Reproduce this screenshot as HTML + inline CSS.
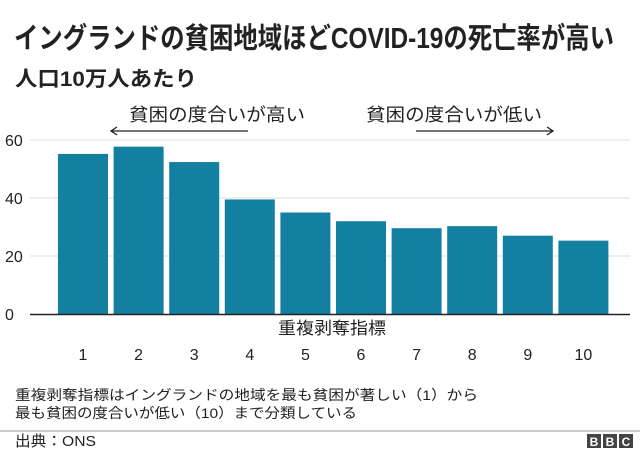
<!DOCTYPE html>
<html><head><meta charset="utf-8"><style>
body{margin:0;width:640px;height:450px;background:#fff;overflow:hidden;font-family:"Liberation Sans","Noto Sans CJK JP",sans-serif;}
</style></head><body>
<svg width="640" height="450" xmlns="http://www.w3.org/2000/svg" font-family="Liberation Sans, Noto Sans CJK JP, sans-serif">
<text x="14" y="48" font-size="29" font-weight="bold" fill="#222" textLength="600" lengthAdjust="spacingAndGlyphs">イングランドの貧困地域ほどCOVID-19の死亡率が高い</text>
<text x="15" y="86" font-size="21" font-weight="bold" fill="#222" textLength="182" lengthAdjust="spacingAndGlyphs">人口10万人あたり</text>
<text x="129" y="121" font-size="18" fill="#222" textLength="176" lengthAdjust="spacingAndGlyphs">貧困の度合いが高い</text>
<text x="366" y="121" font-size="18" fill="#222" textLength="176" lengthAdjust="spacingAndGlyphs">貧困の度合いが低い</text>
<g stroke="#222" stroke-width="1.3" fill="none"><line x1="111" y1="131" x2="248" y2="131"/><polyline points="117,127 111,131 117,135"/></g>
<g stroke="#222" stroke-width="1.3" fill="none"><line x1="416" y1="131" x2="553" y2="131"/><polyline points="547,127 553,131 547,135"/></g>
<g id="grid"></g><g id="bars"></g><g id="axes"></g>
<text x="278" y="334" font-size="17" fill="#222" textLength="108" lengthAdjust="spacingAndGlyphs">重複剥奪指標</text>
<text x="15" y="400" font-size="14" fill="#222" textLength="463" lengthAdjust="spacingAndGlyphs">重複剥奪指標はイングランドの地域を最も貧困が著しい（1）から</text>
<text x="15" y="418" font-size="14" fill="#222" textLength="342" lengthAdjust="spacingAndGlyphs">最も貧困の度合いが低い（10）まで分類している</text>
<line x1="0" y1="431" x2="640" y2="431" stroke="#999" stroke-width="1"/>
<text x="15" y="446" font-size="15" fill="#222" textLength="81" lengthAdjust="spacingAndGlyphs">出典：ONS</text>
<g>
<rect x="587" y="434" width="14" height="14" fill="#444"/><rect x="603" y="434" width="14" height="14" fill="#444"/><rect x="619" y="434" width="14" height="14" fill="#444"/>
<text x="594" y="446" font-size="12" font-weight="bold" fill="#fff" text-anchor="middle">B</text>
<text x="610" y="446" font-size="12" font-weight="bold" fill="#fff" text-anchor="middle">B</text>
<text x="626" y="446" font-size="12" font-weight="bold" fill="#fff" text-anchor="middle">C</text>
</g>
</svg>
<script>
const categories=["1","2","3","4","5","6","7","8","9","10"];
const values=[55.2,57.7,52.4,39.5,35,32,29.6,30.3,27,25.3];
const yTicks=[0,20,40,60];
const NS="http://www.w3.org/2000/svg";
const y=v=>314-v*2.9;
const xc=i=>83+i*55.6;
const grid=document.getElementById('grid'),bars=document.getElementById('bars'),axes=document.getElementById('axes');
yTicks.forEach(t=>{
 if(t!==0){const l=document.createElementNS(NS,'line');
 l.setAttribute('x1',30);l.setAttribute('x2',630);l.setAttribute('y1',y(t));l.setAttribute('y2',y(t));
 l.setAttribute('stroke','#ddd');l.setAttribute('stroke-width','1');
 
 
 grid.appendChild(l);}
 const tx=document.createElementNS(NS,'text');
 tx.setAttribute('x',5);tx.setAttribute('y',y(t)+6);tx.setAttribute('font-size','16');tx.setAttribute('fill','#222');
 tx.textContent=t;
 
 
 axes.appendChild(tx);
});
values.forEach((v,i)=>{
 const r=document.createElementNS(NS,'rect');
 r.setAttribute('x',xc(i)-25);r.setAttribute('width',50);r.setAttribute('y',y(v));r.setAttribute('height',314-y(v));
 r.setAttribute('fill','#1380A1');
 
 
 bars.appendChild(r);
 const tx=document.createElementNS(NS,'text');
 tx.setAttribute('x',xc(i));tx.setAttribute('y',360);tx.setAttribute('font-size','16');tx.setAttribute('fill','#222');tx.setAttribute('text-anchor','middle');
 tx.textContent=categories[i];
 
 
 axes.appendChild(tx);
});
const b=document.createElementNS(NS,'line');
b.setAttribute('x1',30);b.setAttribute('x2',630);b.setAttribute('y1',314.5);b.setAttribute('y2',314.5);
b.setAttribute('stroke','#222');b.setAttribute('stroke-width','1.5');


axes.appendChild(b);
</script>
</body></html>
